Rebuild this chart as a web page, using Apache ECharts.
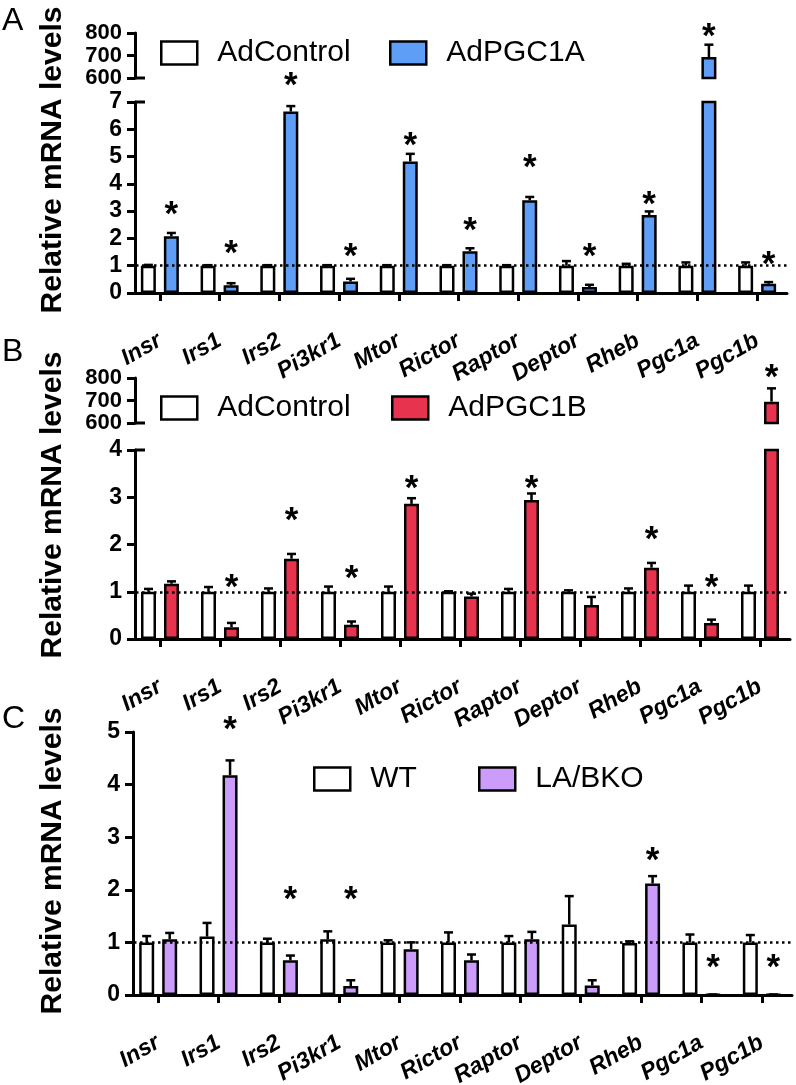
<!DOCTYPE html>
<html><head><meta charset="utf-8">
<script src="https://cdn.jsdelivr.net/npm/echarts@6/dist/echarts.min.js"></script>
<style>html,body{margin:0;padding:0;background:#fff}#c{width:796px;height:1085px}</style>
</head><body><div id="c"></div>
<script>
// ---------------- DATA ----------------
const genes = ['Insr','Irs1','Irs2','Pi3kr1','Mtor','Rictor','Raptor','Deptor','Rheb','Pgc1a','Pgc1b'];

// Panel A
const ctrlA     = [1.00,1.00,1.00,1.00,1.00,1.00,1.00,1.00,1.00,1.00,1.00];
const ctrlAErr  = [0.03,0.02,0.02,0.02,0.02,0.02,0.02,0.17,0.07,0.12,0.12];
const pgc1aA    = [2.08,0.28,6.65,0.42,4.82,1.53,3.40,0.22,2.86,693,0.34];
const pgc1aAErr = [0.12,0.08,0.20,0.10,0.28,0.11,0.12,0.08,0.13,55,0.06];
const starsA    = [3.14,1.71,7.85,1.60,5.67,2.55,4.86,1.60,3.52,815,1.32];
const ticksAlow = [0,1,2,3,4,5,6,7];
const ticksAtop = [600,700,800];

// Panel B
const ctrlB     = [1.00,1.00,1.00,1.00,1.00,1.00,1.00,1.00,1.00,1.00,1.00];
const ctrlBErr  = [0.06,0.10,0.07,0.11,0.11,0.01,0.06,0.03,0.07,0.13,0.13];
const pgc1bB    = [1.17,0.25,1.70,0.30,2.86,0.90,2.94,0.72,1.51,0.34,695];
const pgc1bBErr = [0.05,0.09,0.10,0.07,0.12,0.06,0.14,0.17,0.10,0.07,59];
const starsB    = [null,1.25,2.65,1.43,3.33,null,3.33,null,2.25,1.25,835];
const ticksBlow = [0,1,2,3,4];
const ticksBtop = [600,700,800];

// Panel C
const wtC       = [1.00,1.11,1.00,1.06,1.00,1.00,1.00,1.34,0.99,1.00,1.00];
const wtCErr    = [0.12,0.26,0.07,0.15,0.04,0.19,0.12,0.54,0.03,0.15,0.14];
const bkoC      = [1.06,4.18,0.66,0.17,0.87,0.66,1.06,0.18,2.12,0.01,0.01];
const bkoCErr   = [0.12,0.28,0.09,0.11,0.13,0.11,0.14,0.10,0.14,0,0];
const starsC    = [null,5.19,1.96,1.96,null,null,null,null,2.69,0.66,0.66];
const ticksC    = [0,1,2,3,4,5];

const refLevel = 1;

// ---------------- STYLE / LAYOUT ----------------
const FONT = '"Liberation Sans", Arial, Helvetica, sans-serif';
const BLUE = '#5f9ef6', RED = '#e8334f', PURPLE = '#cc9cfa';
const BAR_W = 15, BAR_GAP_PX = 8;
const OFF = (BAR_W + BAR_GAP_PX) / 2;

const panels = [
  {letter:'A', letterY:5, titleY:160,
   ctrl:{name:'AdControl', vals:ctrlA, err:ctrlAErr, color:'#ffffff'},
   trt:{name:'AdPGC1A', vals:pgc1aA, err:pgc1aAErr, color:BLUE},
   stars:starsA, left:130, width:657, yOff:-5,
   top:{ticks:ticksAtop, y:33, h:45}, low:{ticks:ticksAlow, y:102, h:191},
   legends:[{left:160, top:38},{left:389, top:38}]},
  {letter:'B', letterY:336, titleY:505,
   ctrl:{name:'AdControl', vals:ctrlB, err:ctrlBErr, color:'#ffffff'},
   trt:{name:'AdPGC1B', vals:pgc1bB, err:pgc1bBErr, color:RED},
   stars:starsB, left:130, width:660, yOff:-5,
   top:{ticks:ticksBtop, y:378, h:45}, low:{ticks:ticksBlow, y:450, h:189},
   legends:[{left:160, top:393},{left:391, top:393}]},
  {letter:'C', letterY:703, titleY:861,
   ctrl:{name:'WT', vals:wtC, err:wtCErr, color:'#ffffff'},
   trt:{name:'LA/BKO', vals:bkoC, err:bkoCErr, color:PURPLE},
   stars:starsC, left:128, width:664, yOff:-5,
   top:null, low:{ticks:ticksC, y:732, h:263},
   legends:[{left:313, top:764},{left:478, top:764}]}
];

const grids=[], xAxes=[], yAxes=[], series=[], legends=[], graphics=[];

function errRender(off){
  return function(params, api){
    const i = api.value(0), v = api.value(1), e = api.value(2);
    const p0 = api.coord([i, v]), p1 = api.coord([i, v + e]);
    const x = p0[0] + off;
    return {type:'group', children:[
      {type:'line', shape:{x1:x, y1:p0[1], x2:x, y2:p1[1]}, style:{stroke:'#000', lineWidth:2.5}},
      {type:'line', shape:{x1:x-4.5, y1:p1[1], x2:x+4.5, y2:p1[1]}, style:{stroke:'#000', lineWidth:2.5}}
    ]};
  };
}
function starRender(params, api){
  const p = api.coord([api.value(0), api.value(1)]);
  return {type:'text', style:{text:'*', x:p[0]+OFF, y:p[1]+8, fill:'#000',
    font:'bold 35px ' + FONT, textAlign:'center', textVerticalAlign:'middle'}};
}

function addGrid(p, seg, isLow){
  const gi = grids.length;
  const mn = seg.ticks[0], mx = seg.ticks[seg.ticks.length-1];
  const iv = seg.ticks[1] - seg.ticks[0];
  grids.push({left:p.left, width:p.width, top:seg.y, height:seg.h, outerBoundsMode:'none', containLabel:false});
  xAxes.push({type:'category', gridIndex:gi, data:genes, show:isLow,
    axisLine:{show:true, lineStyle:{color:'#000', width:3}},
    axisTick:{show:true, alignWithLabel:true, length:8, lineStyle:{color:'#000', width:3}},
    axisLabel:{interval:0, rotate:30, margin:46, color:'#000', fontSize:23,
      fontWeight:'bold', fontStyle:'italic', fontFamily:FONT, hideOverlap:false}});
  yAxes.push({type:'value', gridIndex:gi, min:mn, max:mx, interval:iv, offset:p.yOff,
    axisLine:{show:true, lineStyle:{color:'#000', width:3}},
    axisTick:{show:true, interval:0, length:8, lineStyle:{color:'#000', width:3}},
    axisLabel:{color:'#000', fontSize:isLow ? 23 : 22, lineHeight:isLow ? 23 : 18, fontWeight:'bold',
      fontFamily:FONT, margin:13, interval:0, showMinLabel:true, showMaxLabel:true, hideOverlap:false},
    splitLine:{show:false}});
  const inRange = (v) => v != null && v >= mn && v <= mx;
  [p.ctrl, p.trt].forEach((s) => {
    series.push({type:'bar', name:s.name, xAxisIndex:gi, yAxisIndex:gi, data:s.vals,
      barWidth:BAR_W, barGap:(BAR_GAP_PX/BAR_W*100)+'%', clip:true, z:3,
      itemStyle:{color:s.color, borderColor:'#000', borderWidth:2.5}, silent:true});
  });
  [p.ctrl, p.trt].forEach((s, k) => {
    const d = [];
    s.vals.forEach((v, i) => { if (inRange(v) && inRange(v + s.err[i])) d.push([i, v, s.err[i]]); });
    series.push({type:'custom', xAxisIndex:gi, yAxisIndex:gi, data:d, z:4, silent:true,
      renderItem:errRender(k === 0 ? -OFF : OFF)});
  });
  const sd = [];
  p.stars.forEach((v, i) => {
    if (v == null) return;
    const topMin = p.top ? p.top.ticks[0] : Infinity;
    const belongsTop = v >= topMin;
    if ((isLow && !belongsTop) || (!isLow && belongsTop)) sd.push([i, v]);
  });
  series.push({type:'custom', xAxisIndex:gi, yAxisIndex:gi, data:sd, z:5, clip:false,
    silent:true, renderItem:starRender});
  if (isLow) {
    series.push({type:'line', xAxisIndex:gi, yAxisIndex:gi, data:[], z:1, silent:true,
      markLine:{silent:true, symbol:'none', label:{show:false},
        lineStyle:{color:'#000', width:2.5, type:[2.5,3.5]}, data:[{yAxis:refLevel}]}});
  }
  return gi;
}

panels.forEach((p, pi) => {
  if (p.top) addGrid(p, p.top, false);
  addGrid(p, p.low, true);
  const axX = p.left - p.yOff;
  if (p.top) {
    graphics.push({type:'line', id:'capA'+pi, shape:{x1:axX, y1:p.top.y + p.top.h, x2:axX+10, y2:p.top.y + p.top.h},
      style:{stroke:'#000', lineWidth:3}});
    graphics.push({type:'line', id:'capB'+pi, shape:{x1:axX, y1:p.low.y, x2:axX+10, y2:p.low.y},
      style:{stroke:'#000', lineWidth:3}});
  }
  graphics.push({type:'text', id:'letter'+pi, x:2, y:p.letterY,
    style:{text:p.letter, font:'32px ' + FONT, fill:'#000', textAlign:'left', textVerticalAlign:'top'}});
  graphics.push({type:'text', id:'title'+pi, x:53, y:p.titleY, rotation:Math.PI/2,
    style:{text:'Relative mRNA levels', font:'bold 30px ' + FONT, fill:'#000',
      textAlign:'center', textVerticalAlign:'middle'}});
  [p.ctrl, p.trt].forEach((s, k) => {
    legends.push({data:[{name:s.name, icon:'rect'}], left:p.legends[k].left, top:p.legends[k].top,
      itemWidth:36, itemHeight:23, selectedMode:false, padding:0,
      itemStyle:{color:s.color, borderColor:'#000', borderWidth:2.5},
      textStyle:{fontSize:30, color:'#000', fontFamily:FONT, padding:[0,0,0,15]}});
  });
});

const chart = echarts.init(document.getElementById('c'), null, {renderer:'canvas'});
chart.setOption({
  animation:false, backgroundColor:'#fff',
  grid:grids, xAxis:xAxes, yAxis:yAxes, legend:legends, series:series, graphic:graphics
});
</script></body></html>
